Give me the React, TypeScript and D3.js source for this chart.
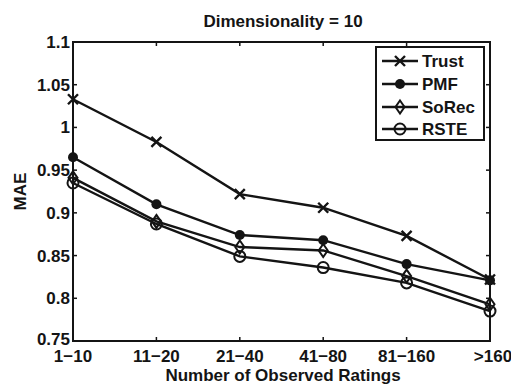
import React from "react";
import * as d3 from "d3";

const categories = ["1\u221210", "11\u221220", "21\u221240", "41\u221280", "81\u2212160", ">160"];
const trust = [1.033, 0.983, 0.922, 0.906, 0.873, 0.822];
const pmf = [0.965, 0.910, 0.874, 0.868, 0.840, 0.821];
const sorec = [0.941, 0.890, 0.860, 0.856, 0.826, 0.793];
const rste = [0.935, 0.887, 0.849, 0.836, 0.818, 0.785];
const yTicks = [0.75, 0.8, 0.85, 0.9, 0.95, 1, 1.05, 1.1];
const seriesNames = ["Trust", "PMF", "SoRec", "RSTE"];
const markers = ["x", "dot", "diamond", "circle"];

const W = 511, H = 386;
const L = 73, R = 490, T = 42, B = 341;
const ink = "#141414";
const font = "Arial, 'Liberation Sans', sans-serif";
const FS = 17;

function Marker({ type, x, y }: { type: string; x: number; y: number }) {
  if (type === "x") {
    const s = 5;
    return <path d={`M${x - s},${y - s}L${x + s},${y + s}M${x - s},${y + s}L${x + s},${y - s}`} stroke={ink} strokeWidth={2.4} />;
  }
  if (type === "dot") return <circle cx={x} cy={y} r={5} fill={ink} />;
  if (type === "diamond") {
    return <path d={`M${x},${y - 6.5}L${x + 4.5},${y}L${x},${y + 6.5}L${x - 4.5},${y}Z`} fill="none" stroke={ink} strokeWidth={2} />;
  }
  return <circle cx={x} cy={y} r={5.5} fill="none" stroke={ink} strokeWidth={2} />;
}

export default function App() {
  const x = d3.scalePoint<string>().domain(categories).range([L, R]);
  const y = d3.scaleLinear().domain([0.75, 1.1]).range([B, T]);
  const data = [trust, pmf, sorec, rste];
  const line = d3.line<number>().x((_, i) => x(categories[i])!).y((d) => y(d));
  const fmt = (v: number) => (Math.abs(v - 1) < 1e-9 ? "1" : String(+v.toFixed(2)));

  const legX = 376, legY = 47, legW = 108, legH = 93;
  const rowY = [61, 84, 107, 129];

  return (
    <svg width={W} height={H} style={{ position: "absolute", left: 0, top: 0, background: "white" }} fontFamily={font}>
      <rect x={0} y={0} width={W} height={H} fill="white" />
      <rect x={L} y={T} width={R - L} height={B - T} fill="none" stroke={ink} strokeWidth={2} />
      {yTicks.map((t) => (
        <g key={t}>
          <line x1={L} x2={L + 4} y1={y(t)} y2={y(t)} stroke={ink} strokeWidth={1.5} />
          <line x1={R} x2={R - 4} y1={y(t)} y2={y(t)} stroke={ink} strokeWidth={1.5} />
          <text x={L - 3} y={y(t) + (t === 0.75 ? 4 : 6)} textAnchor="end" fontSize={FS} fontWeight="bold" fill={ink}>{fmt(t)}</text>
        </g>
      ))}
      {categories.map((c, i) => (
        <g key={c}>
          <line x1={x(c)} x2={x(c)} y1={B} y2={B - 4} stroke={ink} strokeWidth={1.5} />
          <line x1={x(c)} x2={x(c)} y1={T} y2={T + 4} stroke={ink} strokeWidth={1.5} />
          <text x={x(c)! + (i === categories.length - 1 ? 3 : 0)} y={B + 21} textAnchor="middle" fontSize={FS} fontWeight="bold" fill={ink}>{c}</text>
        </g>
      ))}
      {data.map((s, k) => (
        <g key={k}>
          <path d={line(s)!} fill="none" stroke={ink} strokeWidth={2.4} />
          {s.map((v, i) => (
            <Marker key={i} type={markers[k]} x={x(categories[i])!} y={y(v)} />
          ))}
        </g>
      ))}
      <rect x={legX} y={legY} width={legW} height={legH} fill="white" stroke={ink} strokeWidth={2} />
      {seriesNames.map((n, k) => (
        <g key={n}>
          <line x1={legX + 6} x2={legX + 42} y1={rowY[k]} y2={rowY[k]} stroke={ink} strokeWidth={2.4} />
          <Marker type={markers[k]} x={legX + 24} y={rowY[k]} />
          <text x={legX + 46} y={rowY[k] + 6} fontSize={FS} fontWeight="bold" fill={ink}>{n}</text>
        </g>
      ))}
      <text x={283} y={27} textAnchor="middle" fontSize={FS} fontWeight="bold" fill={ink}>Dimensionality = 10</text>
      <text x={283} y={381} textAnchor="middle" fontSize={FS} fontWeight="bold" fill={ink}>Number of Observed Ratings</text>
      <text transform={`translate(26,${(T + B) / 2}) rotate(-90)`} textAnchor="middle" fontSize={FS} fontWeight="bold" fill={ink}>MAE</text>
    </svg>
  );
}
